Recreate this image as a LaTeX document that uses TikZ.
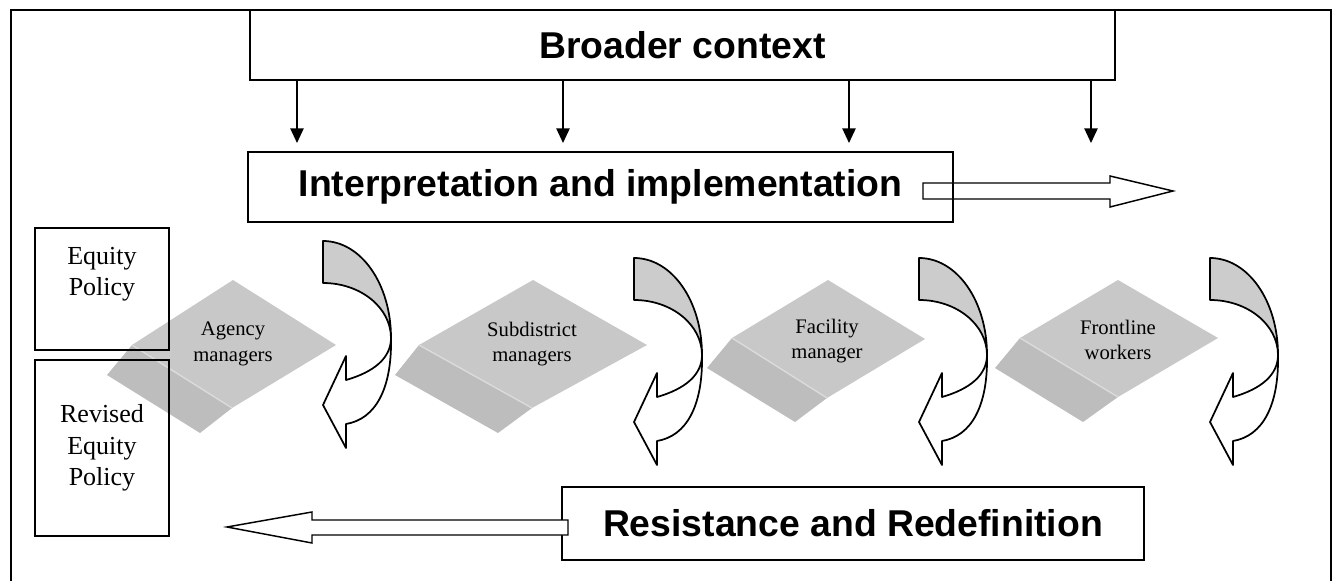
\documentclass[tikz,border=0pt]{standalone}
\usepackage{fontspec}
\setmainfont{Liberation Serif}
\newfontfamily\arialfont{Liberation Sans}
\usetikzlibrary{arrows.meta}

\definecolor{bandgray}{RGB}{204,204,204}
\definecolor{topgray}{RGB}{200,200,200}
\definecolor{sidegray}{RGB}{189,189,189}
\definecolor{edgegray}{RGB}{220,220,220}

\newlength\pxu
\setlength\pxu{0.75pt}

\begin{document}
\begin{tikzpicture}[x=0.75pt,y=-0.75pt,
  box/.style={draw, line width=1.5pt, inner sep=0pt, outer sep=0pt},
  headline/.style={font=\arialfont\bfseries\fontsize{28}{34}\selectfont},
  policy/.style={align=center, font=\fontsize{19.5}{23.5}\selectfont},
  layer/.style={align=center, font=\fontsize{15.5}{19}\selectfont},
  downarrow/.style={line width=1.1pt, -{Triangle[length=11pt,width=10pt]}},
  blockarrow/.style={line width=1.1pt, line join=miter},
  bendarrow/.style={line width=1.3pt, line join=round}]

\useasboundingbox (0,0) rectangle (1335,581);

% frame
\draw[line width=1.9pt] (11,581) -- (11,10) -- (1331,10) -- (1331,581);

% layers
\fill[topgray] (233,280) -- (336,345) -- (232,408) -- (132,345) -- cycle;
\fill[sidegray] (132,345) -- (232,408) -- (200,433) -- (107,375) -- cycle;
\draw[edgegray, line width=1pt] (132,345) -- (232,408);

\fill[topgray] (533,280) -- (647,345) -- (532,408) -- (419,345) -- cycle;
\fill[sidegray] (419,345) -- (532,408) -- (498,433) -- (395,375) -- cycle;
\draw[edgegray, line width=1pt] (419,345) -- (532,408);

\fill[topgray] (828,280) -- (925,339) -- (827,398) -- (732,338) -- cycle;
\fill[sidegray] (732,338) -- (827,398) -- (795,422) -- (707,368) -- cycle;
\draw[edgegray, line width=1pt] (732,338) -- (827,398);

\fill[topgray] (1118,280) -- (1218,338) -- (1118,397) -- (1020,338) -- cycle;
\fill[sidegray] (1020,338) -- (1118,397) -- (1083,422) -- (995,368) -- cycle;
\draw[edgegray, line width=1pt] (1020,338) -- (1118,397);

\node[layer] (agency) at (233,344) {Agency\\managers};
\node[layer] (subdistrict) at (532,344) {Subdistrict\\managers};
\node[layer] (facility) at (827,341) {Facility\\manager};
\node[layer] (frontline) at (1118,340) {Frontline\\workers};

% curved arrows
\foreach \px/\py in {391/338, 702/355, 987/355, 1278/355}{
  \begin{scope}[shift={(\px,\py)}]
    \filldraw[bendarrow, fill=bandgray] (-68,-97) .. controls (-30,-97) and (0,-54) .. (0,0)
      .. controls (0,-30) and (-30,-55) .. (-68,-55) -- cycle;
    \filldraw[bendarrow, fill=white] (0,0) .. controls (0,20) and (-17,34) .. (-45,42)
      -- (-45,18) -- (-68,67) -- (-45,110) -- (-45,86)
      .. controls (-15,81) and (1,50) .. (0,0) -- cycle;
  \end{scope}
}

% policy boxes
\node[box, minimum width=134\pxu, minimum height=122\pxu] (equity) at (102,289) {};
\node[policy] (equitytext) at (102,274) {Equity\\Policy};
\node[box, policy, minimum width=134\pxu, minimum height=176\pxu] (revised) at (102,448) {Revised\\Equity\\Policy};

% context and implementation
\node[box, headline, minimum width=865\pxu, minimum height=70\pxu] (broader) at (682.5,45) {Broader context};

\coordinate (rtip) at (1173,191);
\filldraw[blockarrow, fill=white] (923,183) -- (1110,183) -- (1110,176) -- (rtip)
  -- (1110,207) -- (1110,199) -- (923,199) -- cycle;

\node[box, headline, minimum width=705\pxu, minimum height=70\pxu] (interp) at (600.5,187) {Interpretation and implementation};

\coordinate (d1) at (297,143);
\coordinate (d2) at (563,143);
\coordinate (d3) at (849,143);
\coordinate (d4) at (1091,143);
\foreach \d in {d1,d2,d3,d4}
  \draw[downarrow] (broader.south -| \d) -- (\d);

% resistance
\node[box, headline, minimum width=582\pxu, minimum height=73\pxu] (resist) at (853,523.5) {Resistance and Redefinition};

\coordinate (ltip) at (227,527);
\filldraw[blockarrow, fill=white] (568,520) -- (312,520) -- (312,512) -- (ltip)
  -- (312,543) -- (312,535) -- (568,535) -- cycle;

\end{tikzpicture}
\end{document}
